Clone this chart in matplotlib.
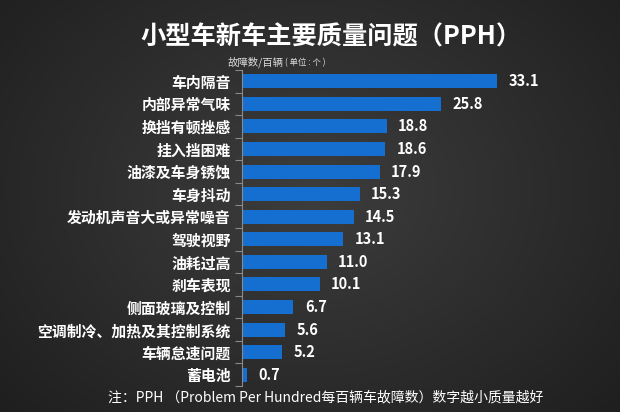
import numpy as np
import matplotlib.pyplot as plt
from matplotlib.ticker import FixedLocator

plt.rcParams['font.family'] = ['Noto Sans CJK SC', 'DejaVu Sans']

# data
problems = ['车内隔音', '内部异常气味', '换挡有顿挫感', '挂入挡困难', '油漆及车身锈蚀',
            '车身抖动', '发动机声音大或异常噪音', '驾驶视野', '油耗过高', '刹车表现',
            '侧面玻璃及控制', '空调制冷、加热及其控制系统', '车辆怠速问题', '蓄电池']
pph = [33.1, 25.8, 18.8, 18.6, 17.9, 15.3, 14.5, 13.1, 11.0, 10.1, 6.7, 5.6, 5.2, 0.7]

fig = plt.figure(figsize=(6.2, 4.12), dpi=100)

# radial dark background
bg = fig.add_axes([0, 0, 1, 1])
yy, xx = np.mgrid[0:412, 0:620]
r = np.sqrt(((xx - 310) / 420.0) ** 2 + ((yy - 190) / 330.0) ** 2)
r = np.clip(r, 0, 1)
shade = 0.24 - 0.12 * r
bg.imshow(np.dstack([shade, shade, shade]), aspect='auto', extent=[0, 1, 0, 1])
bg.axis('off')

ax = fig.add_axes([0.390, 0.063, 0.497, 0.767])
ax.patch.set_alpha(0)
ypos = np.arange(len(problems))
ax.barh(ypos, pph, height=0.62, color='#156fd0')
ax.set_ylim(len(problems) - 0.5, -0.5)
ax.set_xlim(0, 40)

for y, v in zip(ypos, pph):
    ax.text(v + 1.5, y, f'{v:.1f}', color='white', fontsize=10.5, fontweight='bold',
            va='center', ha='left')

ax.set_yticks(ypos)
ax.set_yticklabels(problems, color='white', fontsize=10.7, fontweight='bold')
ax.tick_params(axis='y', which='major', length=0, pad=8)
ax.yaxis.set_minor_locator(FixedLocator(np.arange(-0.5, len(problems), 1)))
ax.tick_params(axis='y', which='minor', length=5, color='#8a8a8a', width=0.8)
ax.set_xticks([])
for s in ['top', 'right', 'bottom']:
    ax.spines[s].set_visible(False)
ax.spines['left'].set_color('#8a8a8a')
ax.spines['left'].set_linewidth(0.8)

fig.text(0.534, 0.91, '小型车新车主要质量问题（PPH）', color='white', fontsize=18.2,
         fontweight='bold', ha='center', va='center')
fig.text(0.457, 0.849, '故障数/百辆', color='#dddddd', fontsize=7.5, ha='right', va='center')
fig.text(0.459, 0.847, '( 单位 : 个 )', color='#dddddd', fontsize=6, ha='left', va='center')
fig.text(0.525, 0.036, '注：PPH （Problem Per Hundred每百辆车故障数）数字越小质量越好',
         color='white', fontsize=10, ha='center', va='center')

fig.savefig('out.png', dpi=100)
